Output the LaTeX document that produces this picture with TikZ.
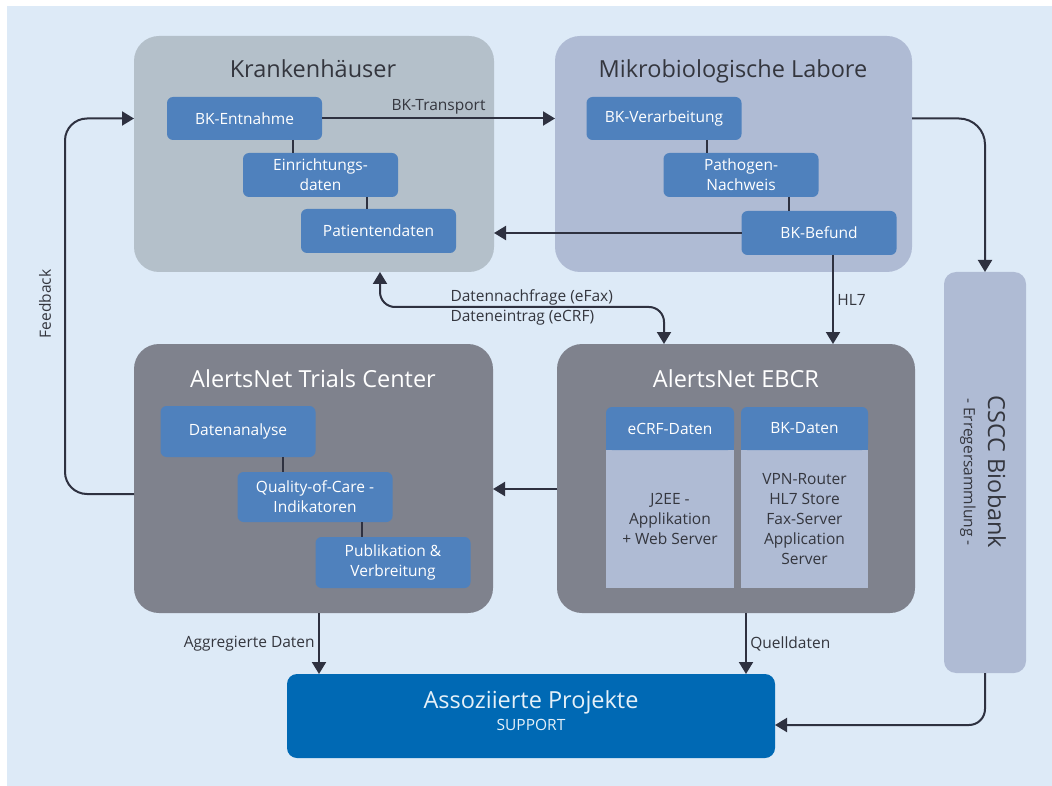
\documentclass[tikz,border=0pt]{standalone}
\usepackage{fontspec}
\setmainfont{Open Sans}
\usetikzlibrary{arrows.meta,positioning}

\definecolor{bgblue}{RGB}{221,234,247}
\definecolor{khgray}{RGB}{180,192,202}
\definecolor{labblue}{RGB}{175,187,212}
\definecolor{boxblue}{RGB}{79,129,189}
\definecolor{centergray}{RGB}{127,130,141}
\definecolor{projblue}{RGB}{0,105,180}
\definecolor{linedark}{RGB}{46,49,64}
\definecolor{textdark}{RGB}{52,54,62}

\newcommand{\titlesize}{\fontsize{23.5}{28}\selectfont}
\newcommand{\boxsize}{\fontsize{15.5}{20}\selectfont}

\begin{document}
\begin{tikzpicture}[x=1pt,y=-1pt]
		\tikzstyle{bigbox}=[rounded corners=25pt,inner sep=0pt,outer sep=0pt]
		\tikzstyle{inbox}=[fill=boxblue,rounded corners=6pt,minimum width=155,minimum height=44,inner sep=0pt,outer sep=0pt,text=white,font=\boxsize,align=center]
		\tikzstyle{colbody}=[fill=labblue,minimum height=138,inner sep=0pt,outer sep=0pt,text=textdark,font=\boxsize,align=center]
		\tikzstyle{title}=[anchor=base,font=\titlesize]
		\tikzstyle{link}=[draw=linedark,line width=2pt]
		\tikzstyle{arrow}=[link,-{Triangle[length=12pt,width=14pt]}]
		\tikzstyle{dblarrow}=[link,{Triangle[length=12pt,width=14pt]}-{Triangle[length=12pt,width=14pt]}]
		\tikzstyle{lbl}=[font=\boxsize,text=textdark]

		\useasboundingbox (0,0) rectangle (1052,786);
		\fill[white] (0,0) rectangle (1052,786);
		\fill[bgblue] (7,6) rectangle (1052,786);

		% Krankenhaeuser
		\node[bigbox,fill=khgray,minimum width=360,minimum height=236] (kh) at (314,154) {};
		\node[title,text=textdark] (khtitle) at (313,78) {Krankenhäuser};
		\node[inbox,minimum height=43] (entnahme) at (244.5,118.5) {BK-Entnahme};
		\node[inbox] (einr) at (320.5,175) {Einrichtungs-\\daten};
		\node[inbox] (pat) at (378.5,231) {Patientendaten};
		\draw[link] (entnahme.south -| 293,0) -- (einr.north -| 293,0);
		\draw[link] (einr.south -| 367,0) -- (pat.north -| 367,0);

		% Mikrobiologische Labore
		\node[bigbox,fill=labblue,minimum width=357,minimum height=236] (ml) at (733.5,154) {};
		\node[title,text=textdark] (mltitle) at (733,78) {Mikrobiologische Labore};
		\node[inbox,minimum height=43] (verarb) at (664,118.5) {BK-Verarbeitung};
		\node[inbox] (patho) at (741,175) {Pathogen-\\Nachweis};
		\node[inbox] (befund) at (819,233) {BK-Befund};
		\draw[link] (verarb.south -| 707,0) -- (patho.north -| 707,0);
		\draw[link] (patho.south -| 789,0) -- (befund.north -| 789,0);

		% AlertsNet Trials Center
		\node[bigbox,fill=centergray,minimum width=359,minimum height=269] (tc) at (313.5,478.5) {};
		\node[title,text=white] (tctitle) at (313,387) {AlertsNet Trials Center};
		\node[inbox,minimum height=51] (analyse) at (238,431.5) {Datenanalyse};
		\node[inbox,minimum height=50] (qoc) at (315,497) {Quality-of-Care -\\Indikatoren};
		\node[inbox,minimum height=51] (publ) at (393,562.5) {Publikation \&\\Verbreitung};
		\draw[link] (analyse.south -| 283,0) -- (qoc.north -| 283,0);
		\draw[link] (qoc.south -| 362,0) -- (publ.north -| 362,0);

		% AlertsNet EBCR
		\node[bigbox,fill=centergray,minimum width=358,minimum height=269] (ebcr) at (736,478.5) {};
		\node[title,text=white] (ebcrtitle) at (736,387) {AlertsNet EBCR};
		\node[colbody,minimum width=128] (ecrfbody) at (670,519) {J2EE -\\Applikation\\+ Web Server};
		\node[colbody,minimum width=127] (bkbody) at (804.5,519) {VPN-Router\\HL7 Store\\Fax-Server\\Application\\Server};
		\node[inbox,minimum width=128,minimum height=43] (ecrfhead) at (670,428.5) {};
		\fill[boxblue] (ecrfhead.south west) rectangle (ecrfhead.east);
		\node[text=white,font=\boxsize] at (ecrfhead) {eCRF-Daten};
		\node[inbox,minimum width=127,minimum height=43] (bkhead) at (804.5,428.5) {};
		\fill[boxblue] (bkhead.south west) rectangle (bkhead.east);
		\node[text=white,font=\boxsize] at (bkhead) {BK-Daten};

		% CSCC Biobank
		\node[fill=labblue,rounded corners=12pt,minimum width=82,minimum height=401,inner sep=0pt,outer sep=0pt] (bio) at (985,472.5) {};
		\node[rotate=-90,font=\titlesize,text=textdark] (biotitle) at (997,472) {CSCC Biobank};
		\node[rotate=-90,lbl] (biosub) at (968,472) {- Erregersammlung -};

		% Assoziierte Projekte
		\node[fill=projblue,rounded corners=10pt,minimum width=488,minimum height=84,inner sep=0pt,outer sep=0pt] (ap) at (531,716) {};
		\node[title,text=white!90!projblue] (aptitle) at (531,708) {Assoziierte Projekte};
		\node[anchor=base,font=\boxsize,text=white!90!projblue] (apsub) at (531,730) {SUPPORT};

		% Verbindungen
		\draw[arrow] (entnahme.east) -- (entnahme.east -| ml.west) node[midway,above,lbl] {BK-Transport};
		\draw[arrow] (befund.west) -- (befund.west -| kh.east);
		\draw[arrow,rounded corners=26pt] (verarb -| ml.east) -| (bio.north);
		\coordinate (apin) at ([yshift=-9pt]ap.east);
		\draw[arrow,rounded corners=16pt] (bio.south) |- (apin);
		\draw[arrow] (befund.south -| 833,0) -- (ebcr.north -| 833,0) node[midway,right,lbl] {HL7};
		\coordinate (dqleft) at (380,307);
		\coordinate (dqright) at (664,307);
		\draw[dblarrow,rounded corners=15pt] (kh.south -| dqleft) -- (dqleft) -- (dqright) -- (ebcr.north -| dqright);
		\node[lbl,anchor=west] (dq1) at (447,297) {Datennachfrage (eFax)};
		\node[lbl,anchor=west] (dq2) at (447,318) {Dateneintrag (eCRF)};
		\draw[arrow] ([yshift=-10.5pt]ebcr.west) -- ([yshift=-10.5pt]ebcr.west -| tc.east);
		\coordinate (fbline) at (65,300);
		\draw[arrow,rounded corners=22pt] ([yshift=-15.5pt]tc.west) -| (fbline) |- (entnahme -| kh.west);
		\node[lbl,rotate=90] (fb) at (45,304) {Feedback};
		\draw[arrow] (tc.south -| 319,0) -- (ap.north -| 319,0) node[midway,left,lbl] {Aggregierte Daten};
		\draw[arrow] (ebcr.south -| 746,0) -- (ap.north -| 746,0) node[midway,right,lbl] {Quelldaten};
\end{tikzpicture}
\end{document}
